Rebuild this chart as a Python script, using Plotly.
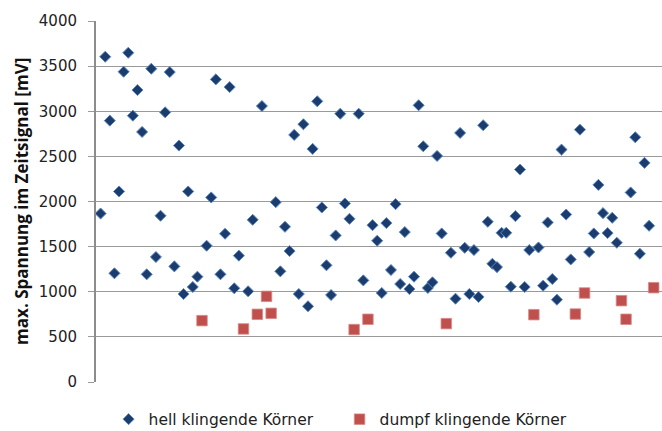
import plotly.graph_objects as go

# Sample index (x) and maximum voltage in mV (y)
hell_x = [1, 2, 3, 4, 5, 6, 7, 8, 9, 10, 11, 12, 13, 14, 15, 16, 17, 18, 19, 20,
          21, 22, 24, 25, 26, 27, 28, 29, 30, 31, 33, 34, 36, 39, 40, 41, 42, 43, 44, 45,
          46, 47, 48, 49, 50, 51, 52, 53, 54, 55, 57, 58, 60, 61, 62, 63, 64, 65, 66, 67,
          68, 69, 70, 71, 72, 73, 74, 75, 77, 78, 79, 80, 81, 82, 83, 84, 85, 86, 87, 88,
          89, 90, 91, 92, 93, 94, 96, 97, 98, 99, 100, 101, 102, 103, 105, 107, 108, 109, 110, 111,
          112, 113, 116, 117, 118, 119, 120]
hell_y = [1867, 3604, 2896, 1204, 2111, 3438, 3648, 2951, 3235, 2771, 1193, 3471, 1385, 1842, 2988, 3434, 1281, 2620, 975, 2111,
          1053, 1167, 1510, 2045, 3353, 1193, 1643, 3268, 1038, 1400, 1005, 1797, 3058, 1993, 1226, 1720, 1451, 2738, 975, 2856,
          839, 2583, 3110, 1934, 1293, 964, 1624, 2973, 1978, 1808, 2973, 1126, 1738, 1565, 986, 1761, 1241, 1971, 1086, 1661,
          1030, 1167, 3066, 2612, 1042, 1104, 2505, 1646, 1432, 923, 2760, 1487, 975, 1462, 942, 2845, 1775, 1310, 1273, 1653,
          1653, 1056, 1838, 2354, 1053, 1462, 1491, 1067, 1768, 1141, 912, 2575, 1856, 1358, 2796, 1440, 1646, 2184, 1871, 1650,
          1819, 1543, 2100, 2712, 1421, 2428, 1731]

dumpf_x = [23, 32, 35, 37, 38, 56, 59, 76, 95, 104, 106, 114, 115, 121]
dumpf_y = [680, 588, 750, 949, 761, 581, 695, 647, 746, 753, 986, 901, 695, 1045]

y_ticks = [0, 500, 1000, 1500, 2000, 2500, 3000, 3500, 4000]
y_title = "max. Spannung im Zeitsignal [mV]"

fig = go.Figure()
fig.add_trace(go.Scatter(
    x=hell_x, y=hell_y, mode="markers", name="hell klingende Körner",
    marker=dict(symbol="diamond", size=8.5, color="#1b3c6c",
                line=dict(color="#5b8ac6", width=1)),
))
fig.add_trace(go.Scatter(
    x=dumpf_x, y=dumpf_y, mode="markers", name="dumpf klingende Körner",
    marker=dict(symbol="square", size=10.5, color="#c0504d",
                line=dict(color="#d98a88", width=0.8)),
))

fig.update_layout(
    width=662, height=431,
    margin=dict(l=96, r=0, t=21, b=48.5, autoexpand=False),
    paper_bgcolor="white", plot_bgcolor="white",
    font=dict(family="DejaVu Sans, sans-serif", size=15, color="#222222"),
    showlegend=True,
    legend=dict(orientation="h", xref="container", yref="container",
                x=0.164, xanchor="left", y=0.066, yanchor="top",
                font=dict(family="DejaVu Sans, sans-serif", size=15.5, color="#222222"),
                itemwidth=30, entrywidth=186, tracegroupgap=0,
                bgcolor="rgba(0,0,0,0)"),
    xaxis=dict(range=[0, 122.8], showticklabels=False, showgrid=False,
               zeroline=False, showline=False, ticks="", fixedrange=True),
    yaxis=dict(range=[0, 4000], tickvals=y_ticks, ticktext=[str(v) for v in y_ticks],
               showgrid=True, gridcolor="#9a9a9a", gridwidth=1.2, automargin=False,
               zeroline=False, showline=True, linecolor="#8c8c8c", linewidth=2,
               ticks="outside", ticklen=6, tickcolor="#9a9a9a", tickwidth=1.2,
               ticklabelstandoff=8,
               tickfont=dict(family="DejaVu Sans, sans-serif", size=15, color="#222222")),
    annotations=[dict(text="<b>" + y_title + "</b>", xref="paper", yref="paper",
                      x=-0.1307, y=0.499, xanchor="center", yanchor="middle",
                      textangle=-90, showarrow=False,
                      font=dict(family="Open Sans, sans-serif", size=17, color="#111111"))],
)

fig.write_html("out.html", config={"displayModeBar": False},
               post_script="document.body.style.margin='0px';")
